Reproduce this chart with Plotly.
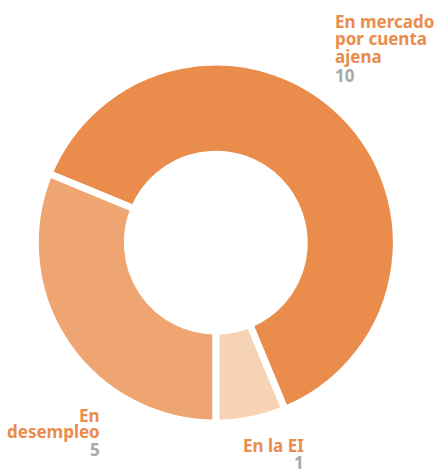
import plotly.graph_objects as go

W, H = 434, 470

categories = ["En mercado por cuenta ajena", "En la EI", "En desempleo"]
values = [10, 1, 5]
slice_colors = ["#EA8C4B", "#F7D3B6", "#EFA571"]

# label lines (text) for each category, and its count
label_lines = [["En mercado", "por cuenta", "ajena"], ["En la EI"], ["En", "desempleo"]]

TEXT_ORANGE = "#EA8C4B"
TEXT_GRAY = "#A8A8A8"
FONT = "Noto Sans"
FS = 17

fig = go.Figure(go.Pie(
    labels=categories,
    values=values,
    sort=False,
    direction="clockwise",
    rotation=-67.5,
    hole=0.49,
    marker=dict(colors=slice_colors, line=dict(color="white", width=7)),
    textinfo="none",
    hoverinfo="label+value",
    showlegend=False,
    domain=dict(x=[35.3 / W, 396.3 / W], y=[46.8 / H, 407.8 / H]),
))

def py(px):
    return 1 - px / H

annotations = []
# label layout: (x px, anchor, list of line center y px for text lines, center y for number)
layout_spec = [
    (333, "left", [21.8, 39.0, 56.2], 75.8),
    (306, "right", [445.6], 462.0),
    (102, "right", [415.8, 431.8], 449.0),
]
for (x, anchor, ys, ny), lines, val in zip(layout_spec, label_lines, values):
    for t, y in zip(lines, ys):
        annotations.append(dict(
            text=f"<b>{t}</b>", x=x / W, y=py(y), xref="paper", yref="paper",
            xanchor=anchor, yanchor="middle", showarrow=False,
            font=dict(family=FONT, size=FS, color=TEXT_ORANGE),
        ))
    annotations.append(dict(
        text=f"<b>{val}</b>", x=x / W, y=py(ny), xref="paper", yref="paper",
        xanchor=anchor, yanchor="middle", showarrow=False,
        font=dict(family=FONT, size=FS, color=TEXT_GRAY),
    ))

fig.update_layout(
    width=W, height=H,
    margin=dict(l=0, r=0, t=0, b=0),
    paper_bgcolor="white", plot_bgcolor="white",
    annotations=annotations,
)

fig.write_html(
    "out.html",
    config={"displayModeBar": False},
    post_script="document.body.style.margin='0';",
)
